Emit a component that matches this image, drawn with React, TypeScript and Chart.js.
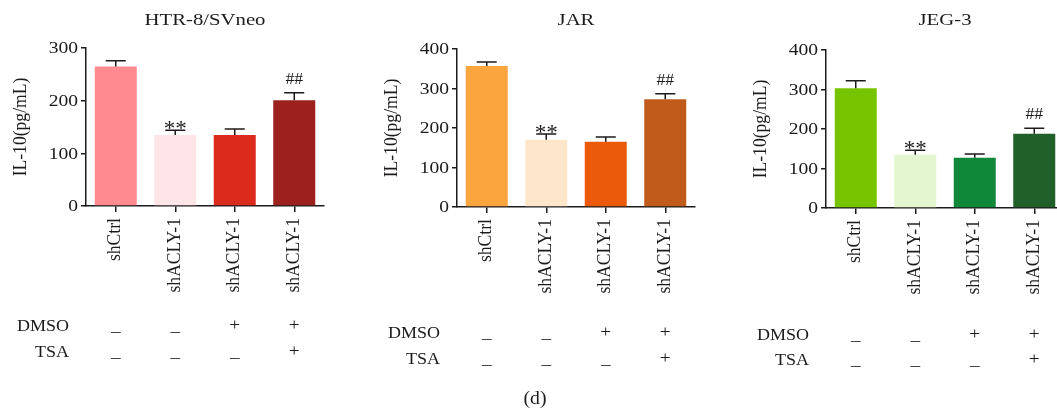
import React, { useEffect, useRef } from 'react';
import { Chart, registerables } from 'chart.js';

Chart.register(...registerables);

const FONT = '"Liberation Serif", "Times New Roman", serif';
const INK = '#1d1a1b';

// ---- data ----
const categories = ['shCtrl', 'shACLY-1', 'shACLY-1', 'shACLY-1'];
const dmsoRow = ['–', '–', '+', '+'];
const tsaRow = ['–', '–', '–', '+'];
const sigMarks = ['', '**', '', '##'];
const yAxisTitle = 'IL-10(pg/mL)';
const caption = '(d)';

const htrTitle = 'HTR-8/SVneo';
const htrValues = [265, 135, 135, 201];
const htrErrors = [11, 9, 11, 14];
const htrColors = ['#FF8A8F', '#FEE5E7', '#DC2B1C', '#9C211C'];

const jarTitle = 'JAR';
const jarValues = [357, 170, 165, 273];
const jarErrors = [10, 15, 12, 14];
const jarColors = ['#FBA53E', '#FEE6CA', '#EB5A0B', '#C05B1B'];

const jegTitle = 'JEG-3';
const jegValues = [303, 135, 127, 188];
const jegErrors = [19, 11, 10, 14];
const jegColors = ['#76C400', '#E3F6CF', '#10883A', '#206129'];

const yMaxes = [300, 400, 400];
const yStep = 100;

// ---- layout ----
const CW = 330;
const CH = 411;
const AXIS_X = 86;

type Panel = {
  title: string;
  values: number[];
  errors: number[];
  colors: string[];
  yMax: number;
  left: number;
  top: number;
  bottom: number;
  dmsoY: number;
  tsaY: number;
  caption?: { text: string; x: number; y: number };
};

const panels: Panel[] = [
  { title: htrTitle, values: htrValues, errors: htrErrors, colors: htrColors, yMax: yMaxes[0], left: 0, top: 48, bottom: 206, dmsoY: 331, tsaY: 357 },
  { title: jarTitle, values: jarValues, errors: jarErrors, colors: jarColors, yMax: yMaxes[1], left: 371, top: 49, bottom: 207, dmsoY: 338, tsaY: 364, caption: { text: caption, x: 535 - 371, y: 404 } },
  { title: jegTitle, values: jegValues, errors: jegErrors, colors: jegColors, yMax: yMaxes[2], left: 740, top: 50, bottom: 208, dmsoY: 340, tsaY: 365 },
];

function drawText(
  ctx: CanvasRenderingContext2D,
  s: string,
  x: number,
  y: number,
  size: number,
  align: CanvasTextAlign,
  baseline: CanvasTextBaseline,
  rot = 0,
  sx = 1.15,
  sy = 1
) {
  ctx.save();
  ctx.translate(x, y);
  if (rot) ctx.rotate(rot);
  ctx.scale(sx, sy);
  ctx.font = `${size}px ${FONT}`;
  ctx.fillStyle = INK;
  ctx.textAlign = align;
  ctx.textBaseline = baseline;
  ctx.fillText(s, 0, 0);
  ctx.restore();
}

function PanelChart({ p }: { p: Panel }) {
  const ref = useRef<HTMLCanvasElement>(null);

  useEffect(() => {
    if (!ref.current) return;
    const decor = {
      id: 'decor',
      afterDatasetsDraw(chart: any) {
        const ctx: CanvasRenderingContext2D = chart.ctx;
        const ys = chart.scales.y;
        const meta = chart.getDatasetMeta(0);
        ctx.save();
        ctx.strokeStyle = INK;
        ctx.lineWidth = 1.5;
        p.values.forEach((v, i) => {
          const x = meta.data[i].x;
          const yb = ys.getPixelForValue(v);
          const yt = ys.getPixelForValue(v + p.errors[i]);
          ctx.beginPath();
          ctx.moveTo(x, yb);
          ctx.lineTo(x, yt);
          ctx.moveTo(x - 10, yt);
          ctx.lineTo(x + 10, yt);
          ctx.stroke();
        });
        ctx.restore();
      },
      afterDraw(chart: any) {
        const ctx: CanvasRenderingContext2D = chart.ctx;
        const area = chart.chartArea;
        const ys = chart.scales.y;
        const xs = chart.scales.x;
        // y tick labels
        ys.ticks.forEach((t: any) => {
          drawText(ctx, String(t.value), area.left - 8, ys.getPixelForValue(t.value) + 1, 17, 'right', 'middle');
        });
        // x labels (rotated)
        categories.forEach((c, i) => {
          drawText(ctx, c, xs.getPixelForTick(i), area.bottom + 12, 16, 'right', 'middle', -Math.PI / 2, 1.1, 1.12);
        });
        // title
        drawText(ctx, p.title, (area.left + area.right) / 2, 25, 17, 'center', 'alphabetic', 0, 1.22, 1);
        // y axis title
        drawText(ctx, yAxisTitle, area.left - 65, (area.top + area.bottom) / 2, 16, 'center', 'middle', -Math.PI / 2, 1.1, 1.12);
        // significance marks
        sigMarks.forEach((m, i) => {
          if (!m) return;
          const x = xs.getPixelForTick(i);
          const yt = ys.getPixelForValue(p.values[i] + p.errors[i]);
          if (m === '**') drawText(ctx, m, x, yt + 5, 21, 'center', 'alphabetic', 0, 1.1, 1);
          else drawText(ctx, m, x, yt - 9, 16, 'center', 'alphabetic', 0, 1.1, 1);
        });
        // treatment table
        drawText(ctx, 'DMSO', area.left - 17, p.dmsoY, 17, 'right', 'alphabetic', 0, 1.06, 1);
        drawText(ctx, 'TSA', area.left - 17, p.tsaY, 17, 'right', 'alphabetic', 0, 1.06, 1);
        categories.forEach((_, i) => {
          const x = xs.getPixelForTick(i);
          const d = dmsoRow[i];
          const t = tsaRow[i];
          drawText(ctx, d, x, d === '+' ? p.dmsoY - 1 : p.dmsoY + 5, 16, 'center', 'alphabetic', 0, 1.2, 1);
          drawText(ctx, t, x, t === '+' ? p.tsaY - 1 : p.tsaY + 5, 16, 'center', 'alphabetic', 0, 1.2, 1);
        });
        if (p.caption) {
          drawText(ctx, p.caption.text, p.caption.x, p.caption.y, 18, 'center', 'alphabetic', 0, 1.1, 1);
        }
      },
    };

    const chart = new Chart(ref.current, {
      type: 'bar',
      data: {
        labels: categories,
        datasets: [
          {
            data: p.values,
            backgroundColor: p.colors,
            borderWidth: 0,
            barPercentage: 0.706,
            categoryPercentage: 1,
          },
        ],
      },
      options: {
        responsive: false,
        devicePixelRatio: 1,
        animation: false,
        layout: { padding: { left: 0, right: 6, top: p.top, bottom: 0 } },
        plugins: { legend: { display: false }, tooltip: { enabled: false }, title: { display: false } },
        scales: {
          x: {
            type: 'category',
            offset: true,
            grid: { offset: false, drawOnChartArea: false, drawTicks: true, tickLength: 6, color: INK, lineWidth: 1.5 },
            border: { display: true, color: INK, width: 1.5 },
            ticks: { display: false },
            afterFit: (s: any) => {
              s.height = CH - p.bottom;
            },
          },
          y: {
            min: 0,
            max: p.yMax,
            ticks: { display: false, stepSize: yStep },
            grid: { drawOnChartArea: false, drawTicks: true, tickLength: 5, color: INK, lineWidth: 1.5 },
            border: { display: true, color: INK, width: 1.5 },
            afterFit: (s: any) => {
              s.width = AXIS_X;
            },
          },
        },
      },
      plugins: [decor],
    } as any);
    return () => chart.destroy();
  }, []);

  return (
    <canvas
      ref={ref}
      width={CW}
      height={CH}
      style={{ position: 'absolute', left: p.left, top: 0, width: CW, height: CH }}
    />
  );
}

export default function App() {
  return (
    <div
      style={{
        position: 'absolute',
        left: 0,
        top: 0,
        width: 1057,
        height: 411,
        overflow: 'hidden',
        background: '#ffffff',
      }}
    >
      {panels.map((p, i) => (
        <PanelChart key={i} p={p} />
      ))}
    </div>
  );
}
